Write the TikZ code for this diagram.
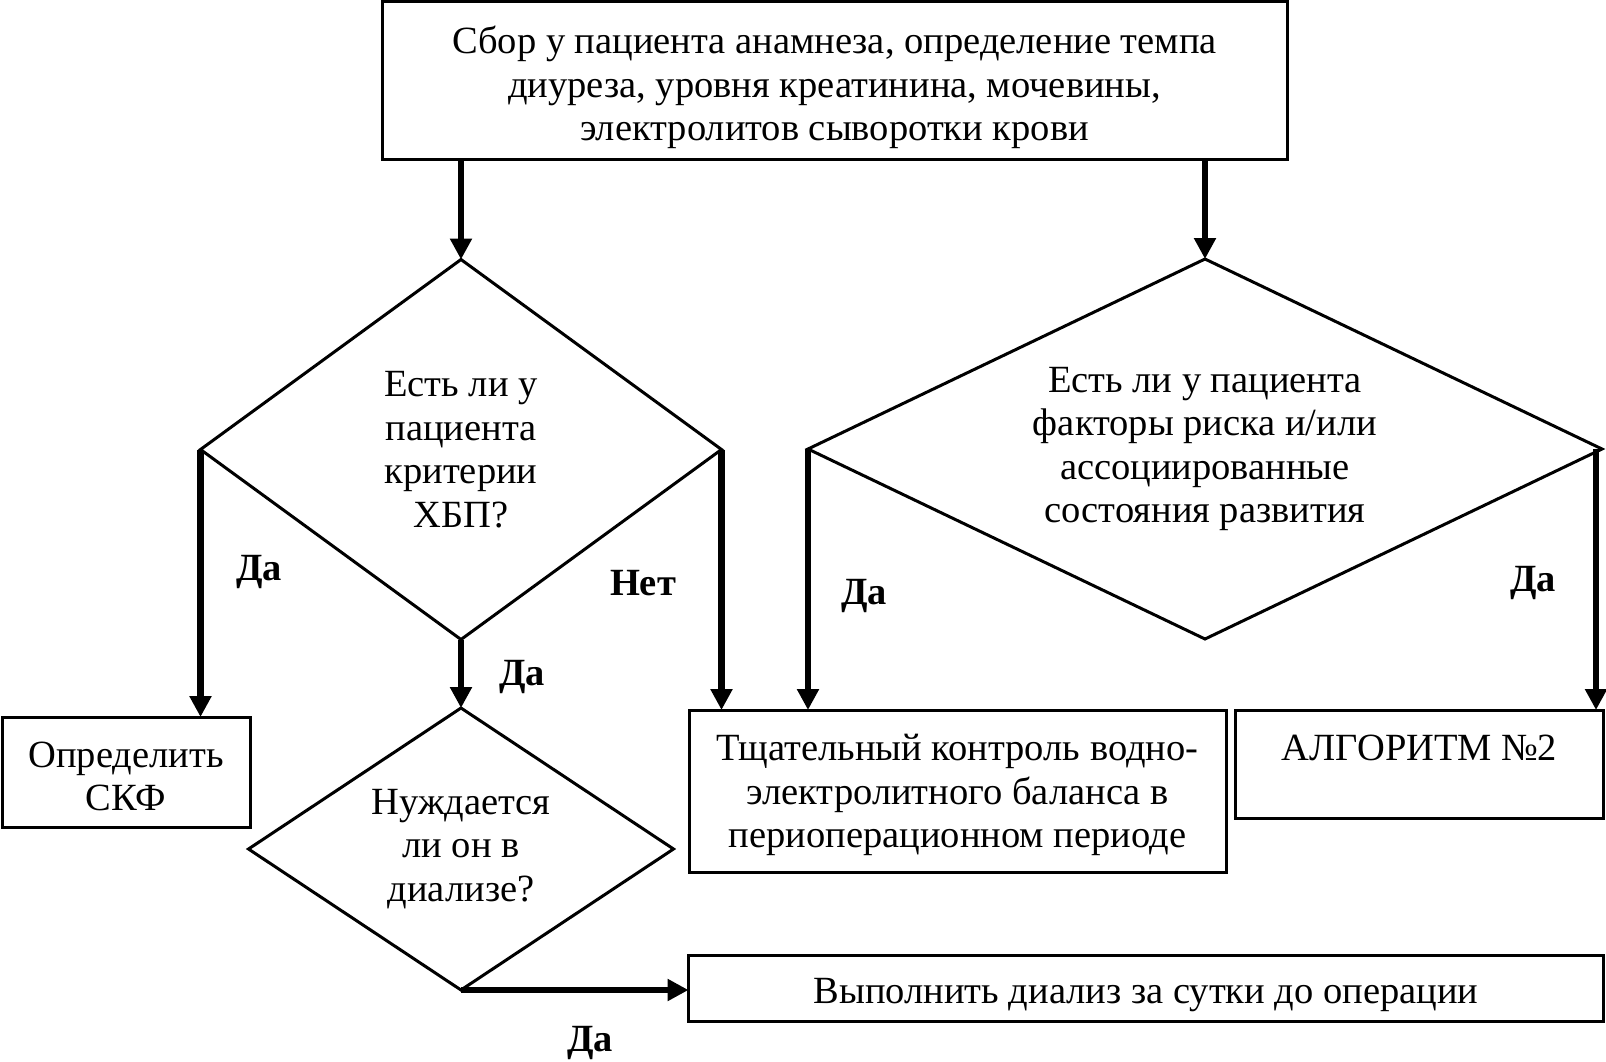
\documentclass[tikz,border=0pt]{standalone}
\usepackage{fontspec}
\setmainfont{Liberation Serif}
\usetikzlibrary{shapes.geometric,arrows.meta}
\begin{document}
\begin{tikzpicture}[x=1pt,y=-1pt,
  every node/.style={font=\fontsize{38.5pt}{43.5pt}\selectfont, align=center, inner sep=0pt, outer sep=0pt},
  box/.style={draw, line width=3pt, rectangle},
  dia/.style={draw, line width=3pt, diamond},
  flow/.style={line width=6.5pt, -{Triangle[length=21pt,width=21pt]}},
  lab/.style={font=\fontsize{38.5pt}{43.5pt}\selectfont\bfseries}]
\useasboundingbox (0,0) rectangle (1606,1061);

\node[box, minimum width=905pt, minimum height=158pt] (top) at (834.5,80.5) {};
\node (toptext) at (834.5,87.5)
  {Сбор у пациента анамнеза, определение темпа\\диуреза, уровня креатинина, мочевины,\\электролитов сыворотки крови};

\node[dia, aspect=1.37, minimum width=521pt, minimum height=380pt] (d1) at (461,449.5)
  {Есть ли у\\пациента\\критерии\\ХБП?};
\node[dia, aspect=2.09, minimum width=794pt, minimum height=380pt] (d2) at (1205,449)
  {Есть ли у пациента\\факторы риска и/или\\ассоциированные\\состояния развития};
\node[dia, aspect=1.5, minimum width=425pt, minimum height=282pt] (d3) at (461,849)
  {Нуждается\\ли он в\\диализе?};

\node[box, minimum width=248pt, minimum height=110pt] (skf) at (126,772) {};
\node (skftext) at (126,776.5) {Определить\\СКФ};
\node[box, minimum width=537pt, minimum height=162pt] (care) at (957.5,791) {};
\node (caretext) at (957.5,795)
  {Тщательный контроль водно-\\электролитного баланса в\\периоперационном периоде};
\node[box, minimum width=368pt, minimum height=108pt] (alg) at (1419.5,764) {};
\node (algtext) at (1419.5,748) {АЛГОРИТМ №2};
\node[box, minimum width=915pt, minimum height=66pt] (dial) at (1146,988) {};
\node (dialtext) at (1146,995) {Выполнить диализ за сутки до операции};

\draw[flow] (top.south -| d1.north) -- (d1.north);
\draw[flow] (top.south -| d2.north) -- (d2.north);
\draw[flow] (d1.west) -- (d1.west |- skf.north);
\draw[flow] (d1.east) -- (d1.east |- care.north);
\draw[flow] (d1.south) -- (d3.north);
\draw[flow] (d2.west) -- (d2.west |- care.north);
\draw[flow] ([xshift=-6pt]d2.east) -- ([xshift=-6pt]d2.east |- alg.north);
\draw[flow] (d3.south) -- (d3.south -| dial.west);

\node[lab] (l1) at (259,572) {Да};
\node[lab] (l2) at (643,583) {Нет};
\node[lab] (l3) at (522,677) {Да};
\node[lab] (l4) at (864,596) {Да};
\node[lab] (l5) at (1533,583) {Да};
\node[lab] (l6) at (590,1043) {Да};
\end{tikzpicture}
\end{document}
